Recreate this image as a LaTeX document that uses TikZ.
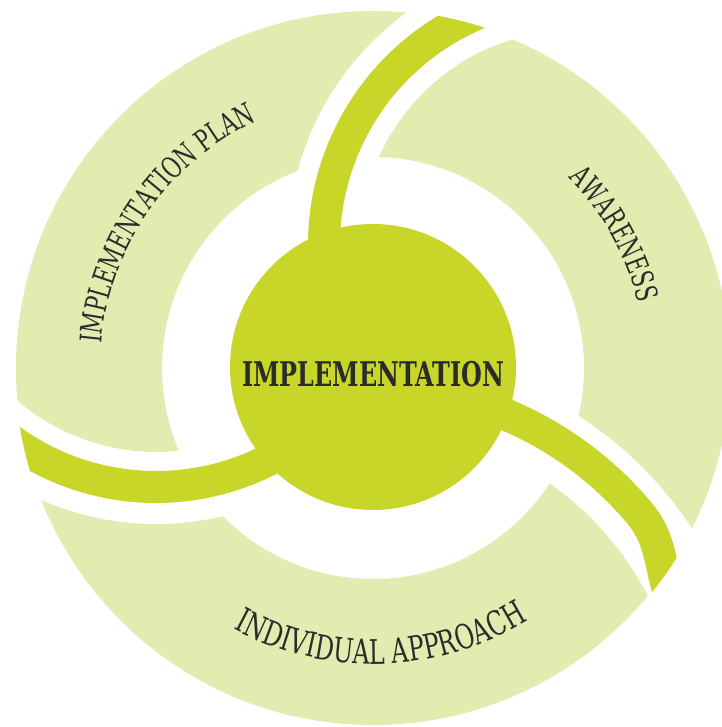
\documentclass[tikz,border=0pt]{standalone}
\usepackage{fontspec}
\usetikzlibrary{decorations.text}
\newfontfamily\slab[FakeStretch=0.78]{DejaVu Serif Condensed}
\definecolor{ringgreen}{HTML}{E3EBB0}
\definecolor{armgreen}{HTML}{C8D62A}
\definecolor{inkdark}{HTML}{2B2B29}

\begin{document}
\begin{tikzpicture}[
		x=1pt, y=1pt,
		arm/.style={draw=armgreen, line width=32pt},
		cut/.style={draw=white, line width=72pt},
		hub/.style={circle, fill=armgreen, minimum size=286pt, inner sep=0pt},
		every node/.style={text=inkdark}
		]
		\useasboundingbox (-373,-359) rectangle (348,368);
		% outer ring
		\fill[ringgreen, even odd rule] (0,0) circle (357pt) (0,0) circle (211pt);
		% gaps between the three parts
		\draw[cut] (202,123) ++(185:251pt) arc[start angle=185, end angle=105, radius=251pt];
		\draw[cut] (-217,129) ++(-55:249pt) arc[start angle=-55, end angle=-135, radius=249pt];
		\draw[cut] (-4,-372) ++(75:350pt) arc[start angle=75, end angle=22, radius=350pt];
		% arms
		\begin{scope}
			\clip (0,0) circle (358pt);
			\draw[arm] (202,123) ++(185:251pt) arc[start angle=185, end angle=105, radius=251pt];
			\draw[arm] (-217,129) ++(-55:248pt) arc[start angle=-55, end angle=-135, radius=248pt];
			\draw[arm] (-4,-372) ++(75:353pt) arc[start angle=75, end angle=40, radius=353pt]
				to[out=-50, in=115] (302,-240);
		\end{scope}
		\node[hub] (hub) at (0,1) {};
		\node[font=\slab\bfseries\fontsize{34}{34}\selectfont] (title) at (0,-6.5) {IMPLEMENTATION};
		% labels on the ring
		\path[decorate, decoration={text along path, text align=center,
			text={|\slab\fontsize{30}{30}\selectfont\color{inkdark}|IMPLEMENTATION PLAN}}]
			(185:273pt) arc (185:105:273pt);
		\path[decorate, decoration={text along path, text align=center,
			text={|\slab\fontsize{30}{30}\selectfont\color{inkdark}|AWARENESS}}]
			(69:273pt) arc (69:-11:273pt);
		\path[decorate, decoration={text along path, text align=center,
			text={|\slab\fontsize{34}{34}\selectfont\color{inkdark}|INDIVIDUAL APPROACH}}]
			(231.7:296pt) arc (231.7:311.7:296pt);
	\end{tikzpicture}
\end{document}
